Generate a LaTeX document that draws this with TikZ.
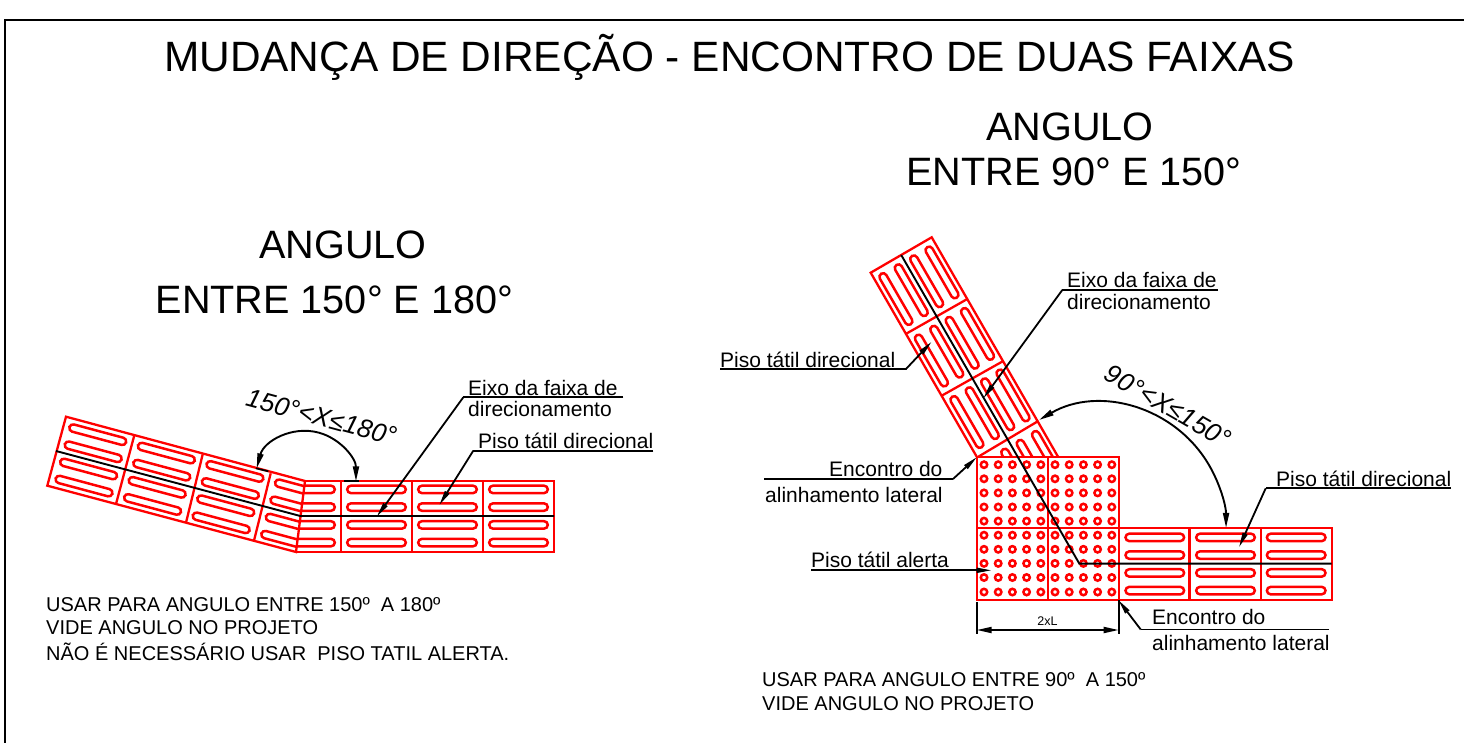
\documentclass[tikz,border=0pt]{standalone}
\usepackage{fontspec}
\setmainfont{Liberation Sans}
\usetikzlibrary{arrows.meta}
\newcommand{\hpills}[1]{% tile starting at local x=#1
  \foreach \yy in {-26.6,-8.9,8.9,26.6}{
    \draw[pill] (#1+6.2,\yy-3.7) rectangle (#1+64.8,\yy+3.7);
  }
}
\newcommand{\dotcol}[1]{\foreach \yy in {464.7,478.8,492.9,507,521.1,535.2,549.3,563.4,577.5,592}{
  \draw[dotring] (#1,\yy) circle[radius=3.2];}}
\definecolor{tilered}{RGB}{255,0,0}
\tikzset{
  tileline/.style={draw=tilered,line width=2.3pt,line join=miter},
  dotring/.style={draw=tilered,line width=2.5pt},
  pill/.style={draw=tilered,line width=2.5pt,rounded corners=3.7pt},
  axisline/.style={draw=black,line width=1.9pt},
  leader/.style={draw=black,line width=1.8pt,-{Triangle[length=15pt,width=5pt]}},
  under/.style={draw=black,line width=1.8pt},
  dimarc/.style={draw=black,line width=1.9pt,{Triangle[length=15pt,width=6pt]}-{Triangle[length=15pt,width=6pt]}},
  tick/.style={draw=black,line width=1.7pt},
  title/.style={font=\fontsize{42.4}{42.4}\selectfont,inner sep=0pt,anchor=center},
  heading/.style={font=\fontsize{39.6}{39.6}\selectfont,inner sep=0pt,anchor=center},
  lab/.style={font=\fontsize{21}{21}\selectfont,inner sep=0pt,anchor=west},
  note/.style={font=\fontsize{20}{20}\selectfont,inner sep=0pt,anchor=west},
  anglab/.style={font=\itshape\fontsize{26}{26}\selectfont,inner sep=0pt,anchor=center},
}
\begin{document}
\begin{tikzpicture}[x=1pt,y=-1pt]
\useasboundingbox (0,0) rectangle (1464,743);
\fill[white] (0,0) rectangle (1464,743);
\draw[black,line width=2pt] (5,743) -- (5,20) -- (1464,20);
% ---------------- titles
\node[title] (t0) at (729.5,57) {MUDANÇA DE DIREÇÃO - ENCONTRO DE DUAS FAIXAS};
\node[heading] (t1) at (1070,127) {ANGULO};
\node[heading] (t2) at (1074,172) {ENTRE 90° E 150°};
\node[heading] (t3) at (343,245) {ANGULO};
\node[heading] (t4) at (334.5,300) {ENTRE 150° E 180°};
% ---------------- left: slanted strip
\begin{scope}
\clip (66,416.7) -- (305,481) -- (300.3,516) -- (296,552) -- (47.3,485.7) -- cycle;
\begin{scope}[shift={(56.6,451.2)},rotate=-15]
\hpills{0}\hpills{71}\hpills{142}\hpills{213}
\end{scope}
\end{scope}
\draw[tileline] (66,416.7) -- (305,481) -- (296,552) -- (47.3,485.7) -- cycle;
\draw[tileline] (134.3,435.3) -- (116,504);
\draw[tileline] (202.7,454.3) -- (186,522.7);
\draw[tileline] (270.7,473.3) -- (254,540.7);
% left: straight strip
\begin{scope}
\clip (305,481) -- (555,481) -- (555,552) -- (296,552) -- cycle;
\begin{scope}[shift={(270,516)}]
\hpills{0}\hpills{71}\hpills{142}\hpills{213}
\end{scope}
\end{scope}
\draw[tileline] (305,481) -- (554,481) -- (554,552) -- (296,552);
\draw[tileline] (341,481) -- (341,552);
\draw[tileline] (412,481) -- (412,552);
\draw[tileline] (483,481) -- (483,552);
\draw[axisline] (56,451) -- (300.3,516) -- (554,516);
% left: angle
\coordinate (la) at (256.7,468.3);
\draw[tick] (256,468.3) -- (268.3,471.3);
\draw[tick] (344,481) -- (359.3,481);
\draw[dimarc] (la) arc[start angle=-165,end angle=0,radius=50.5];
\node[anglab,rotate=-15] (a1) at (321.5,417) {150°<X≤180°};
% left: labels
\node[lab] (l1) at (468,388) {Eixo da faixa de};
\node[lab] (l2) at (468,409) {direcionamento};
\node[lab] (l3) at (478,441) {Piso tátil direcional};
\coordinate (l1a) at (463.3,397.3); \coordinate (l1b) at (623.3,397.3); \coordinate (l1t) at (376.7,516.7);
\coordinate (l3a) at (473.3,450.7); \coordinate (l3b) at (653.3,450.7); \coordinate (l3t) at (439.3,505);
\draw[under] (l1b) -- (l1a); \draw[leader] (l1a) -- (l1t);
\draw[under] (l3b) -- (l3a); \draw[leader] (l3a) -- (l3t);
\node[note] (n1) at (46,605) {USAR PARA ANGULO ENTRE 150º\ \ A 180º};
\node[note] (n2) at (46,628) {VIDE ANGULO NO PROJETO};
\node[note] (n3) at (46,652) {NÃO É NECESSÁRIO USAR\ \ PISO TATIL ALERTA.};
% ---------------- right: diagonal strip
\begin{scope}
\clip (931.7,237.3) -- (1058,456.7) -- (976.7,456.7) -- (870.7,272.7) -- cycle;
\begin{scope}[shift={(901.2,255)},rotate=-60]
\hpills{0}\hpills{71}\hpills{142}\hpills{213}
\end{scope}
\end{scope}
\draw[tileline] (976.7,456.7) -- (870.7,272.7) -- (931.7,237.3) -- (1058,456.7);
\draw[tileline] (967.3,299) -- (905.7,334);
\draw[tileline] (1003.3,361) -- (941.7,395.7);
\draw[tileline] (1038.3,421) -- (978.3,456.7);
% alert block
\draw[tileline] (976.7,457.3) rectangle (1118.7,600);
\draw[tileline] (1047.7,457.3) -- (1047.7,600);
\draw[tileline] (976.7,528.3) -- (1118.7,528.3);
\foreach \xx in {984,998.2,1012.4,1026.6,1040.8,1055,1069.2,1083.4,1097.6,1111.8}{\dotcol{\xx}}
% horizontal strip
\begin{scope}[shift={(1119.3,564)}]
\hpills{0}\hpills{70.7}\hpills{141.4}
\end{scope}
\draw[tileline] (1118.7,528.3) rectangle (1331.7,599.7);
\draw[tileline] (1189.5,528.3) -- (1189.5,599.7);
\draw[tileline] (1260.7,528.3) -- (1260.7,599.7);
\draw[axisline] (901.2,255) -- (1079.3,563.6) -- (1331.7,563.6);
% right: angle
\coordinate (ra) at (1039,420);
\draw[dimarc] (ra) arc[start angle=-120,end angle=0,radius=124.7];
\node[anglab,rotate=-30] (a2) at (1168,406) {90°<X≤150°};
% right: labels
\node[lab] (r1) at (1067,280) {Eixo da faixa de};
\node[lab] (r2) at (1067,302) {direcionamento};
\node[lab] (r3) at (720,360) {Piso tátil direcional};
\node[lab] (r4) at (829,469) {Encontro do};
\node[lab] (r5) at (765,495) {alinhamento lateral};
\node[lab] (r6) at (811,559.5) {Piso tátil alerta};
\node[lab] (r7) at (1276,479) {Piso tátil direcional};
\node[lab] (r8) at (1152,617) {Encontro do};
\node[lab] (r9) at (1152,643) {alinhamento lateral};
\coordinate (r1a) at (1062.3,290); \coordinate (r1b) at (1218,290); \coordinate (r1t) at (983.3,398.3);
\coordinate (r3a) at (905.7,369.3); \coordinate (r3b) at (720,369.3); \coordinate (r3t) at (931.7,341.7);
\coordinate (r4a) at (953,479); \coordinate (r4b) at (764.3,479); \coordinate (r4t) at (977,457);
\coordinate (r6a) at (811,570.3); \coordinate (r6t) at (991.7,570.3);
\coordinate (r7a) at (1265.7,488.3); \coordinate (r7b) at (1451,488.3); \coordinate (r7t) at (1239,547.3);
\coordinate (r8a) at (1140.7,629.5); \coordinate (r8b) at (1329,629.5); \coordinate (r8t) at (1118.3,600);
\draw[under] (r1b) -- (r1a); \draw[leader] (r1a) -- (r1t);
\draw[under] (r3b) -- (r3a); \draw[leader] (r3a) -- (r3t);
\draw[under] (r4b) -- (r4a); \draw[leader] (r4a) -- (r4t);
\draw[leader] (r6a) -- (r6t);
\draw[under] (r7b) -- (r7a); \draw[leader] (r7a) -- (r7t);
\draw[under] (r8b) -- (r8a); \draw[leader] (r8a) -- (r8t);
% dimension
\coordinate (d1) at (976.7,630); \coordinate (d2) at (1118.7,630);
\draw[tick] (976.7,602) -- (976.7,634);
\draw[tick] (1118.7,600) -- (1118.7,634);
\draw[dimarc] (d1) -- (d2);
\node[font=\fontsize{12.5}{12.5}\selectfont,inner sep=0pt] (dl) at (1047.5,621) {2xL};
\node[note] (n4) at (762,680) {USAR PARA ANGULO ENTRE 90º\ \ A 150º};
\node[note] (n5) at (762,704) {VIDE ANGULO NO PROJETO};
\end{tikzpicture}
\end{document}
